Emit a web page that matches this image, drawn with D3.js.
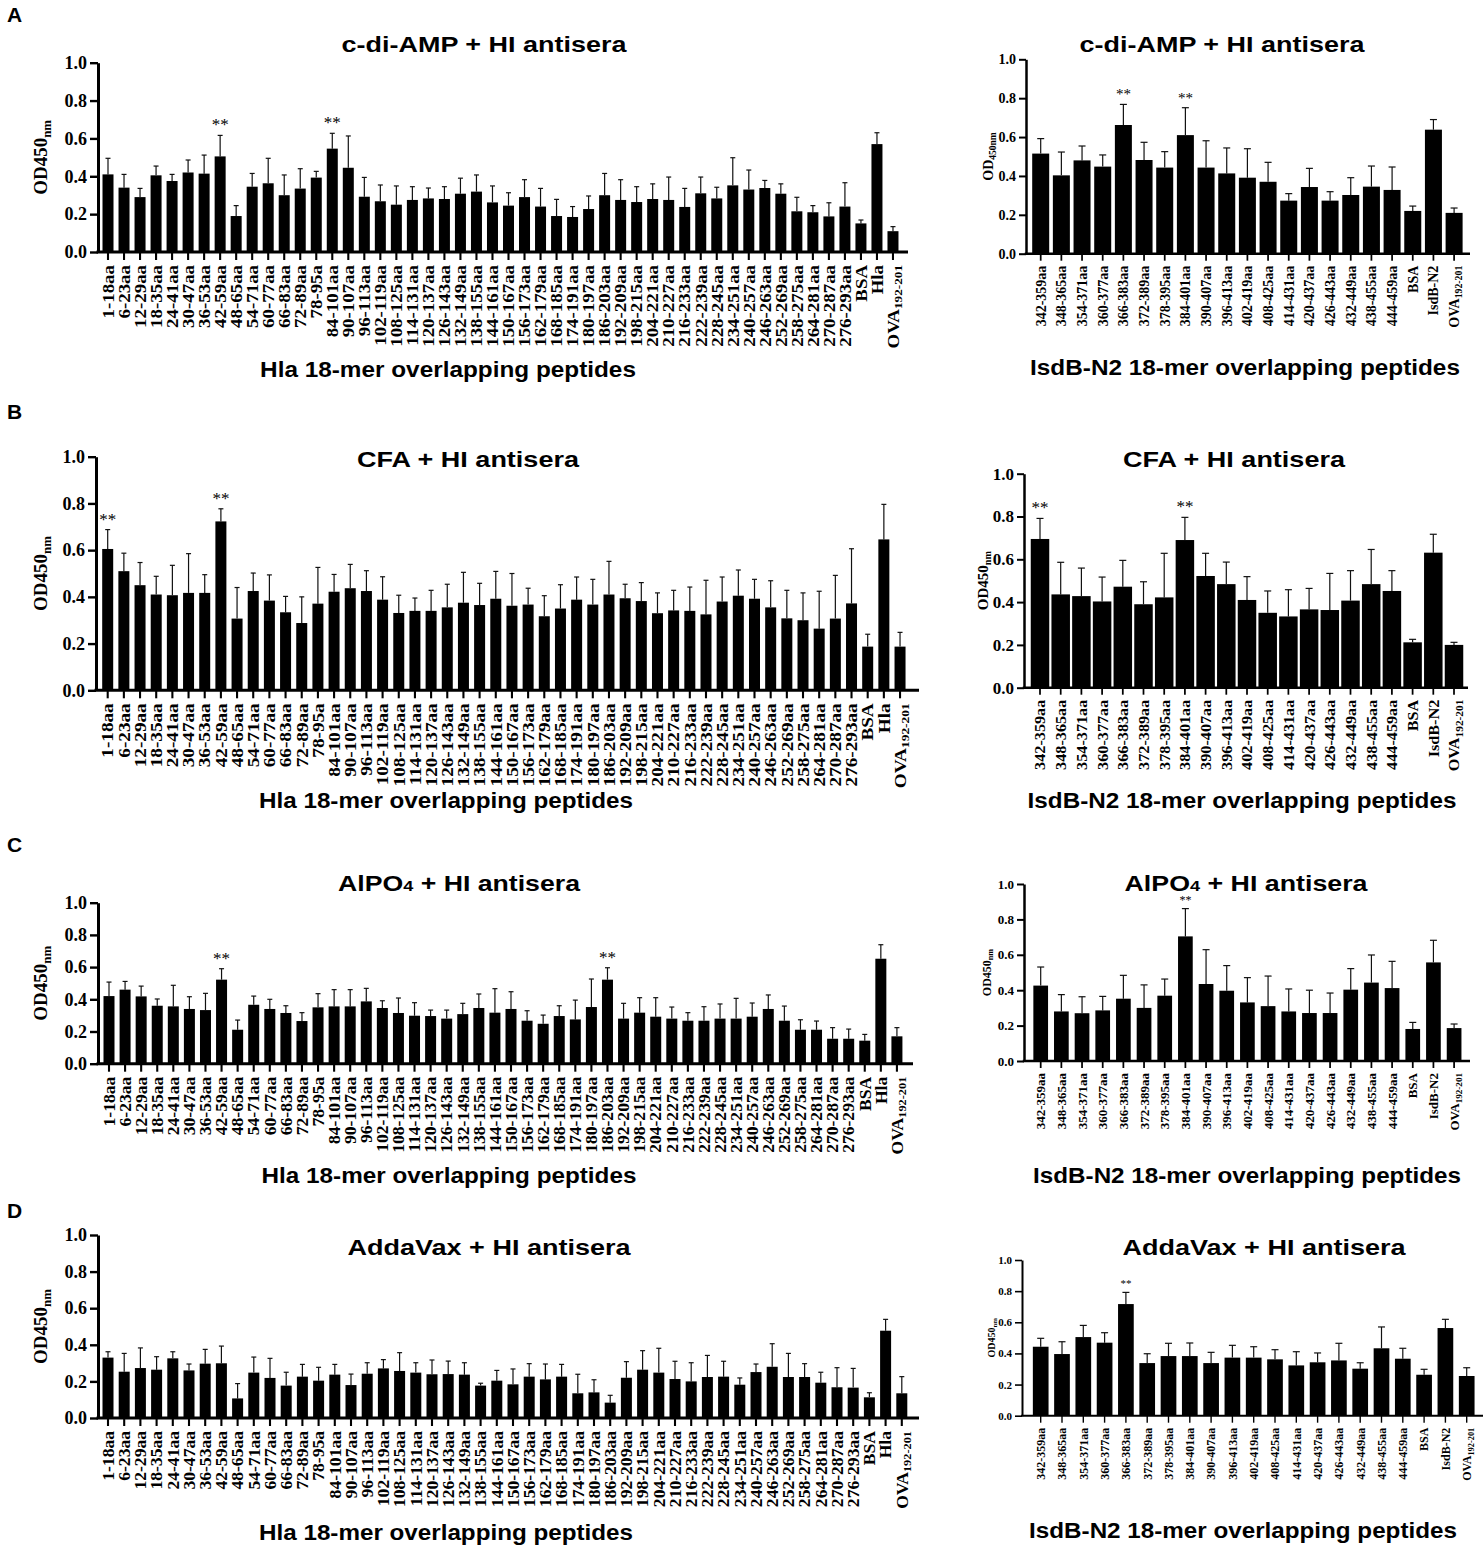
<!DOCTYPE html>
<html>
<head>
<meta charset="utf-8">
<script src="https://cdn.jsdelivr.net/npm/d3@7"></script>
<style>
  body { margin: 0; background: #fff; }
  svg { display: block; }
</style>
</head>
<body>
<script>
// Step 1: data (mean and upper SD for each peptide)

var hlaLabels = ["1-18aa", "6-23aa", "12-29aa", "18-35aa", "24-41aa", "30-47aa", "36-53aa", "42-59aa", "48-65aa", "54-71aa",
  "60-77aa", "66-83aa", "72-89aa", "78-95a", "84-101aa", "90-107aa", "96-113aa", "102-119aa", "108-125aa", "114-131aa",
  "120-137aa", "126-143aa", "132-149aa", "138-155aa", "144-161aa", "150-167aa", "156-173aa", "162-179aa", "168-185aa", "174-191aa",
  "180-197aa", "186-203aa", "192-209aa", "198-215aa", "204-221aa", "210-227aa", "216-233aa", "222-239aa", "228-245aa", "234-251aa",
  "240-257aa", "246-263aa", "252-269aa", "258-275aa", "264-281aa", "270-287aa", "276-293aa", "BSA", "Hla", "OVA192-201"];

var isdLabels = ["342-359aa", "348-365aa", "354-371aa", "360-377aa", "366-383aa", "372-389aa", "378-395aa", "384-401aa", "390-407aa", "396-413aa",
  "402-419aa", "408-425aa", "414-431aa", "420-437aa", "426-443aa", "432-449aa", "438-455aa", "444-459aa", "BSA", "IsdB-N2", "OVA192-201"];

var yTicks = [0, 0.2, 0.4, 0.6, 0.8, 1.0];

// A: c-di-AMP
var cdiHlaMean = [0.41, 0.34, 0.29, 0.405, 0.375, 0.42, 0.414, 0.505, 0.19, 0.345,
  0.363, 0.30, 0.335, 0.393, 0.546, 0.445, 0.292, 0.268, 0.25, 0.275,
  0.283, 0.28, 0.308, 0.319, 0.262, 0.245, 0.29, 0.24, 0.19, 0.185,
  0.227, 0.30, 0.275, 0.264, 0.28, 0.275, 0.238, 0.31, 0.283, 0.352,
  0.33, 0.338, 0.308, 0.215, 0.21, 0.188, 0.24, 0.151, 0.57, 0.11];
var cdiHlaSd = [0.085, 0.07, 0.046, 0.049, 0.035, 0.066, 0.098, 0.111, 0.055, 0.07,
  0.132, 0.107, 0.105, 0.033, 0.081, 0.168, 0.102, 0.086, 0.099, 0.07,
  0.055, 0.065, 0.082, 0.088, 0.087, 0.068, 0.092, 0.096, 0.088, 0.055,
  0.069, 0.115, 0.107, 0.081, 0.08, 0.121, 0.098, 0.086, 0.059, 0.146,
  0.103, 0.04, 0.052, 0.074, 0.035, 0.072, 0.126, 0.018, 0.06, 0.024];
var cdiHlaStars = ["42-59aa", "84-101aa"];

var cdiIsdMean = [0.515, 0.403, 0.48, 0.448, 0.662, 0.482, 0.443, 0.61, 0.443, 0.413,
  0.391, 0.37, 0.273, 0.343, 0.273, 0.302, 0.345, 0.328, 0.22, 0.638, 0.21];
var cdiIsdSd = [0.077, 0.12, 0.074, 0.06, 0.106, 0.091, 0.082, 0.141, 0.138, 0.131,
  0.149, 0.10, 0.036, 0.096, 0.046, 0.089, 0.106, 0.118, 0.025, 0.052, 0.025];
var cdiIsdStars = ["366-383aa", "384-401aa"];

// B: CFA
var cfaHlaMean = [0.605, 0.51, 0.45, 0.41, 0.407, 0.417, 0.417, 0.723, 0.307, 0.425,
  0.384, 0.334, 0.288, 0.371, 0.422, 0.437, 0.425, 0.388, 0.331, 0.34,
  0.34, 0.355, 0.375, 0.365, 0.392, 0.362, 0.367, 0.317, 0.35, 0.388,
  0.367, 0.41, 0.394, 0.382, 0.33, 0.342, 0.34, 0.325, 0.38, 0.405,
  0.392, 0.355, 0.308, 0.30, 0.264, 0.307, 0.372, 0.187, 0.646, 0.187];
var cfaHlaSd = [0.083, 0.077, 0.097, 0.078, 0.128, 0.168, 0.078, 0.054, 0.133, 0.077,
  0.11, 0.068, 0.112, 0.155, 0.074, 0.102, 0.087, 0.098, 0.076, 0.055,
  0.088, 0.099, 0.13, 0.093, 0.117, 0.138, 0.07, 0.088, 0.102, 0.097,
  0.108, 0.142, 0.06, 0.079, 0.087, 0.086, 0.102, 0.146, 0.105, 0.11,
  0.083, 0.114, 0.12, 0.117, 0.16, 0.185, 0.234, 0.053, 0.15, 0.061];
var cfaHlaStars = ["1-18aa", "42-59aa"];

var cfaIsdMean = [0.695, 0.436, 0.428, 0.403, 0.472, 0.39, 0.422, 0.69, 0.522, 0.484,
  0.41, 0.35, 0.333, 0.366, 0.363, 0.407, 0.484, 0.452, 0.212, 0.631, 0.20];
var cfaIsdSd = [0.096, 0.15, 0.131, 0.114, 0.123, 0.105, 0.206, 0.106, 0.106, 0.103,
  0.109, 0.102, 0.125, 0.098, 0.171, 0.14, 0.162, 0.095, 0.014, 0.086, 0.012];
var cfaIsdStars = ["342-359aa", "384-401aa"];

// C: AlPO4
var alpoHlaMean = [0.42, 0.46, 0.418, 0.36, 0.356, 0.34, 0.333, 0.522, 0.211, 0.366,
  0.34, 0.315, 0.265, 0.35, 0.356, 0.356, 0.387, 0.346, 0.315, 0.298,
  0.296, 0.28, 0.308, 0.346, 0.317, 0.34, 0.267, 0.248, 0.296, 0.275,
  0.352, 0.522, 0.28, 0.317, 0.292, 0.28, 0.267, 0.267, 0.28, 0.28,
  0.292, 0.34, 0.267, 0.211, 0.211, 0.155, 0.155, 0.143, 0.652, 0.17];
var alpoHlaSd = [0.087, 0.051, 0.064, 0.042, 0.131, 0.076, 0.104, 0.068, 0.06, 0.054,
  0.06, 0.045, 0.052, 0.085, 0.104, 0.104, 0.081, 0.045, 0.093, 0.081,
  0.037, 0.053, 0.067, 0.087, 0.149, 0.107, 0.062, 0.054, 0.064, 0.12,
  0.174, 0.074, 0.095, 0.093, 0.118, 0.072, 0.05, 0.087, 0.091, 0.126,
  0.085, 0.087, 0.091, 0.062, 0.054, 0.069, 0.06, 0.039, 0.087, 0.054];
var alpoHlaStars = ["42-59aa", "186-203aa"];

var alpoIsdMean = [0.426, 0.28, 0.27, 0.286, 0.352, 0.30, 0.369, 0.704, 0.435, 0.397,
  0.331, 0.31, 0.28, 0.271, 0.271, 0.403, 0.443, 0.412, 0.181, 0.557, 0.186];
var alpoIsdSd = [0.105, 0.095, 0.093, 0.079, 0.132, 0.13, 0.094, 0.157, 0.194, 0.142,
  0.14, 0.17, 0.127, 0.129, 0.113, 0.119, 0.156, 0.151, 0.037, 0.125, 0.023];
var alpoIsdStars = ["384-401aa"];

// D: AddaVax
var addaHlaMean = [0.33, 0.253, 0.273, 0.264, 0.326, 0.26, 0.297, 0.299, 0.107, 0.248,
  0.219, 0.177, 0.226, 0.204, 0.237, 0.18, 0.242, 0.271, 0.257, 0.248,
  0.239, 0.24, 0.237, 0.177, 0.204, 0.184, 0.226, 0.211, 0.226, 0.135,
  0.14, 0.084, 0.22, 0.264, 0.248, 0.213, 0.20, 0.224, 0.226, 0.182,
  0.251, 0.28, 0.224, 0.224, 0.193, 0.168, 0.166, 0.113, 0.477, 0.135];
var addaHlaSd = [0.032, 0.10, 0.11, 0.071, 0.036, 0.035, 0.078, 0.094, 0.081, 0.085,
  0.107, 0.073, 0.067, 0.073, 0.056, 0.06, 0.06, 0.048, 0.10, 0.054,
  0.078, 0.071, 0.065, 0.013, 0.056, 0.084, 0.071, 0.084, 0.067, 0.104,
  0.069, 0.04, 0.088, 0.104, 0.133, 0.097, 0.102, 0.118, 0.084, 0.037,
  0.044, 0.126, 0.129, 0.073, 0.057, 0.107, 0.105, 0.025, 0.062, 0.091];
var addaHlaStars = [];

var addaIsdMean = [0.443, 0.396, 0.505, 0.469, 0.717, 0.338, 0.383, 0.383, 0.338, 0.373,
  0.373, 0.362, 0.323, 0.343, 0.355, 0.302, 0.433, 0.366, 0.263, 0.563, 0.255];
var addaIsdSd = [0.054, 0.079, 0.075, 0.064, 0.075, 0.06, 0.082, 0.084, 0.069, 0.079,
  0.07, 0.062, 0.088, 0.06, 0.11, 0.038, 0.137, 0.067, 0.035, 0.056, 0.053];
var addaIsdStars = ["366-383aa"];

// Step 2: svg wrapper
var svg = d3.select("body")
  .append("svg")
  .attr("width", 1484)
  .attr("height", 1547);

var serif = "'Liberation Serif', 'Times New Roman', serif";
var sans = "'Liberation Sans', Arial, sans-serif";

// text squeezed/stretched horizontally to a measured width
function fitText(parent, parts, cx, baseline, width, size) {
  var t = parent.append("text")
    .attr("text-anchor", "middle")
    .style("font-family", sans)
    .style("font-weight", "bold")
    .style("font-size", size + "px");
  parts.forEach(function(p) {
    var ts = t.append("tspan").text(p.t);
    if (p.small) ts.style("font-size", (size * 0.68) + "px");
  });
  var len = t.node().getComputedTextLength();
  t.attr("transform", `translate(${cx},${baseline}) scale(${width / len},1)`);
  return t;
}

// Step 3: one panel
function drawPanel(p) {
  var g = svg.append("g");
  var n = p.cats.length;
  var start = p.first - p.step / 2;
  var pin = 1 - p.bw / p.step;

  var xScale = d3.scaleBand()
    .domain(p.cats)
    .range([start, start + n * p.step])
    .paddingInner(pin)
    .paddingOuter(pin / 2);

  var yScale = d3.scaleLinear()
    .domain([0, 1])
    .range([p.y0, p.y1]);

  var rows = p.cats.map((c, i) => ({ c: c, m: p.mean[i], s: p.sd[i], star: p.stars.indexOf(c) >= 0 }));
  var cx = d => xScale(d.c) + xScale.bandwidth() / 2;

  // error bars (upper only)
  g.selectAll(".err")
    .data(rows)
    .enter()
    .append("line")
    .attr("x1", cx).attr("x2", cx)
    .attr("y1", d => yScale(d.m))
    .attr("y2", d => yScale(d.m + d.s))
    .attr("stroke", "#111")
    .attr("stroke-width", 1.2);

  g.selectAll(".cap")
    .data(rows)
    .enter()
    .append("line")
    .attr("x1", d => cx(d) - p.cap / 2)
    .attr("x2", d => cx(d) + p.cap / 2)
    .attr("y1", d => yScale(d.m + d.s))
    .attr("y2", d => yScale(d.m + d.s))
    .attr("stroke", "#111")
    .attr("stroke-width", 1.2);

  g.selectAll("rect")
    .data(rows)
    .enter()
    .append("rect")
    .attr("x", d => xScale(d.c))
    .attr("width", xScale.bandwidth())
    .attr("y", d => yScale(d.m))
    .attr("height", d => yScale(0) - yScale(d.m))
    .attr("fill", "#000");

  g.selectAll(".star")
    .data(rows.filter(d => d.star))
    .enter()
    .append("text")
    .attr("x", cx)
    .attr("y", d => yScale(d.m + d.s) - 5)
    .attr("text-anchor", "middle")
    .attr("fill", "#000")
    .style("font-family", serif)
    .style("font-size", p.starFont + "px")
    .text("**");

  // y axis
  var yAxis = g.append("g")
    .attr("transform", `translate(${p.axisX},0)`)
    .call(d3.axisLeft(yScale).tickValues(yTicks).tickFormat(d3.format(".1f")).tickSize(p.yTick).tickSizeOuter(0).tickPadding(3));
  yAxis.select(".domain").attr("stroke-width", p.axisW).attr("stroke", "#000");
  yAxis.selectAll(".tick line").attr("stroke-width", p.axisW * 0.8).attr("stroke", "#000");
  yAxis.selectAll(".tick text")
    .style("font-family", serif)
    .style("font-weight", "bold")
    .style("font-size", p.yFont + "px")
    .attr("fill", "#000");

  // x axis
  var xAxis = g.append("g")
    .attr("transform", `translate(0,${p.y0})`)
    .call(d3.axisBottom(xScale).tickSize(p.xTick).tickSizeOuter(0));
  xAxis.select(".domain").remove();
  xAxis.selectAll(".tick line").attr("stroke-width", p.axisW * 0.7).attr("stroke", "#000");
  xAxis.selectAll(".tick text")
    .attr("transform", `rotate(-90) scale(${p.xScaleK},1)`)
    .attr("x", -p.xOff / p.xScaleK)
    .attr("y", 0)
    .attr("dy", "0.36em")
    .style("text-anchor", "end")
    .style("font-family", serif)
    .style("font-weight", "bold")
    .style("font-size", p.xFont + "px")
    .attr("fill", "#000")
    .each(function(d) {
      if (d.indexOf("OVA") === 0) {
        var t = d3.select(this).text("");
        t.append("tspan").text("OVA");
        t.append("tspan").text(d.slice(3))
          .style("font-size", (p.xFont * 0.7) + "px")
          .attr("dy", "0.3em");
      }
    });
  g.append("line")
    .attr("x1", p.axisX - p.axisW / 2)
    .attr("x2", p.axisEnd)
    .attr("y1", p.y0)
    .attr("y2", p.y0)
    .attr("stroke", "#000")
    .attr("stroke-width", p.axisW);

  // y label
  var yl = g.append("text")
    .attr("transform", `translate(${p.yLabX},${(p.y0 + p.y1) / 2}) rotate(-90)`)
    .attr("text-anchor", "middle")
    .style("font-family", serif)
    .style("font-weight", "bold")
    .style("font-size", p.yLabFont + "px");
  yl.append("tspan").text(p.yLabMain);
  yl.append("tspan").text(p.yLabSub)
    .style("font-size", (p.yLabFont * 0.68) + "px")
    .attr("dy", "0.3em");

  // titles
  fitText(g, p.title, p.titleX, p.titleY, p.titleW, 22);
  fitText(g, [{ t: p.xTitle }], p.xTitleX, p.xTitleY, p.xTitleW, 22);
}

// Step 4: panel layout
var leftBase = { cats: hlaLabels, bw: 11, cap: 5, axisW: 3, yTick: 8, xTick: 8, xOff: 13,
  yFont: 18, xFont: 16, starFont: 17, yLabX: 47, yLabFont: 19, yLabMain: "OD450", yLabSub: "nm",
  xTitle: "Hla 18-mer overlapping peptides" };
var rightBase = { cats: isdLabels, cap: 7, axisW: 2.5, yTick: 7, xTick: 7, xOff: 12,
  starFont: 15, yLabX: 994, yLabMain: "OD450", yLabSub: "nm",
  xTitle: "IsdB-N2 18-mer overlapping peptides" };

var panels = [
  Object.assign({}, leftBase, { mean: cdiHlaMean, sd: cdiHlaSd, stars: cdiHlaStars,
    axisX: 98, axisEnd: 908, first: 108, step: 16.02, y0: 252, y1: 62.7, xScaleK: 1.18,
    title: [{ t: "c-di-AMP + HI antisera" }], titleX: 484, titleY: 52, titleW: 285,
    xTitleX: 448, xTitleY: 377, xTitleW: 376 }),
  Object.assign({}, rightBase, { mean: cdiIsdMean, sd: cdiIsdSd, stars: cdiIsdStars,
    axisX: 1026, axisEnd: 1470, first: 1040.7, step: 20.67, bw: 17, y0: 253.7, y1: 59.3,
    yFont: 14, xFont: 14, xScaleK: 1.0, yLabFont: 14, yLabX: 993, yLabMain: "OD", yLabSub: "450nm",
    title: [{ t: "c-di-AMP + HI antisera" }], titleX: 1222, titleY: 52, titleW: 285,
    xTitleX: 1245, xTitleY: 375, xTitleW: 430 }),
  Object.assign({}, leftBase, { mean: cfaHlaMean, sd: cfaHlaSd, stars: cfaHlaStars,
    axisX: 96, axisEnd: 919, first: 107.7, step: 16.17, y0: 690.3, y1: 456.7, xScaleK: 1.2,
    title: [{ t: "CFA + HI antisera" }], titleX: 468, titleY: 467, titleW: 222,
    xTitleX: 446, xTitleY: 808, xTitleW: 374 }),
  Object.assign({}, rightBase, { mean: cfaIsdMean, sd: cfaIsdSd, stars: cfaIsdStars,
    axisX: 1024, axisEnd: 1468, first: 1040, step: 20.7, bw: 18.5, y0: 687.7, y1: 473.7,
    yFont: 17, xFont: 15, xScaleK: 1.08, yLabFont: 15, yLabX: 988, starFont: 17,
    title: [{ t: "CFA + HI antisera" }], titleX: 1234, titleY: 467, titleW: 222,
    xTitleX: 1242, xTitleY: 808, xTitleW: 429 }),
  Object.assign({}, leftBase, { mean: alpoHlaMean, sd: alpoHlaSd, stars: alpoHlaStars,
    axisX: 98, axisEnd: 913, first: 109, step: 16.08, y0: 1063.7, y1: 902.7, xScaleK: 1.1,
    title: [{ t: "AlPO" }, { t: "4", small: true }, { t: " + HI antisera" }], titleX: 459, titleY: 891, titleW: 242,
    xTitleX: 449, xTitleY: 1183, xTitleW: 375 }),
  Object.assign({}, rightBase, { mean: alpoIsdMean, sd: alpoIsdSd, stars: alpoIsdStars,
    axisX: 1024, axisEnd: 1470, first: 1040.7, step: 20.67, bw: 14.7, y0: 1061, y1: 884,
    yFont: 13, xFont: 13, xScaleK: 1.0, yLabFont: 12, yLabX: 991, starFont: 12,
    title: [{ t: "AlPO" }, { t: "4", small: true }, { t: " + HI antisera" }], titleX: 1246, titleY: 891, titleW: 243,
    xTitleX: 1247, xTitleY: 1183, xTitleW: 428 }),
  Object.assign({}, leftBase, { mean: addaHlaMean, sd: addaHlaSd, stars: addaHlaStars,
    axisX: 98, axisEnd: 919, first: 108, step: 16.2, y0: 1418, y1: 1235, xScaleK: 1.1,
    title: [{ t: "AddaVax + HI antisera" }], titleX: 489, titleY: 1255, titleW: 283,
    xTitleX: 446, xTitleY: 1540, xTitleW: 374 }),
  Object.assign({}, rightBase, { mean: addaIsdMean, sd: addaIsdSd, stars: addaIsdStars,
    axisX: 1022, axisEnd: 1483, first: 1040.7, step: 21.3, bw: 15.7, y0: 1415.7, y1: 1260,
    yFont: 11, xFont: 12, xScaleK: 1.0, yLabFont: 10, yLabX: 995, starFont: 11, axisW: 2,
    title: [{ t: "AddaVax + HI antisera" }], titleX: 1264, titleY: 1255, titleW: 283,
    xTitleX: 1243, xTitleY: 1538, xTitleW: 428 })
];

panels.forEach(drawPanel);

// Step 5: panel letters
var letters = [["A", 22], ["B", 419], ["C", 852], ["D", 1218]];
svg.selectAll(".letter")
  .data(letters)
  .enter()
  .append("text")
  .attr("x", 7)
  .attr("y", d => d[1])
  .style("font-family", sans)
  .style("font-weight", "bold")
  .style("font-size", "21px")
  .text(d => d[0]);
</script>
</body>
</html>
